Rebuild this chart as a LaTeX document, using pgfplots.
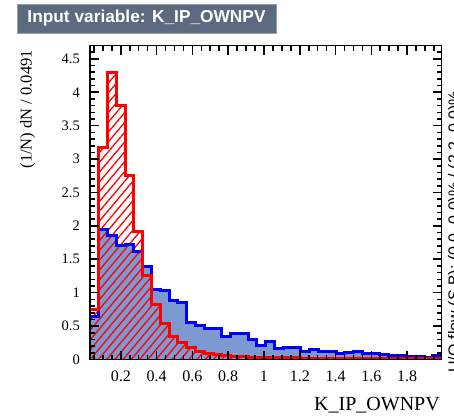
\documentclass[border=0pt]{standalone}
\usepackage{pgfplots}
\pgfplotsset{compat=1.18}
\usepackage{pgfplotstable}
\usepackage{fontspec}
\setmainfont{Liberation Serif}
\newfontfamily\helv{Liberation Sans}
\usetikzlibrary{patterns.meta}
\definecolor{bfill}{RGB}{125,153,209}
\definecolor{titlebox}{RGB}{91,106,126}
\definecolor{titleedge}{RGB}{150,160,172}

\pgfplotstableread{
x sig bkg
0.0280 0.75 0.65
0.0771 3.17 1.95
0.1262 4.29 1.85
0.1753 3.80 1.70
0.2244 2.76 1.72
0.2735 1.92 1.62
0.3226 1.25 1.39
0.3717 0.83 1.05
0.4208 0.54 1.03
0.4699 0.35 0.89
0.5190 0.26 0.86
0.5681 0.175 0.55
0.6172 0.12 0.51
0.6663 0.095 0.46
0.7154 0.075 0.47
0.7645 0.06 0.345
0.8136 0.05 0.385
0.8627 0.042 0.385
0.9118 0.036 0.295
0.9609 0.032 0.21
1.0100 0.029 0.275
1.0591 0.027 0.16
1.1082 0.025 0.185
1.1573 0.023 0.185
1.2064 0.022 0.12
1.2555 0.021 0.145
1.3046 0.020 0.125
1.3537 0.019 0.115
1.4028 0.018 0.09
1.4519 0.017 0.10
1.5010 0.016 0.125
1.5501 0.016 0.085
1.5992 0.015 0.09
1.6483 0.015 0.075
1.6974 0.014 0.065
1.7465 0.014 0.065
1.7956 0.013 0.05
1.8447 0.013 0.05
1.8938 0.012 0.035
1.9429 0.012 0.065
1.9920 0.012 0.065
}\histdata

\begin{document}
\begin{tikzpicture}[x=1pt,y=1pt]
\useasboundingbox (0,0) rectangle (454,418);
\begin{axis}[
  at={(90pt,58.5pt)}, anchor=south west,
  scale only axis, width=351.5pt, height=314pt,
  xmin=0.028, xmax=1.992, ymin=0, ymax=4.70,
  axis on top,
  axis line style={line width=1.8pt},
  xtick={0.2,0.4,...,1.8}, ytick={0,0.5,...,4.5},
  minor xtick={0.05,0.10,...,1.95}, minor ytick={0.1,0.2,...,4.6},
  tick align=inside,
  major tick length=9pt, minor tick length=5pt,
  every tick/.style={black, line width=1.6pt},
  /pgf/number format/assume math mode=true,
  xticklabel style={font=\fontsize{16}{16}\selectfont, inner sep=0pt, anchor=north, yshift=-11pt},
  yticklabel style={font=\fontsize{14.5}{14.5}\selectfont, inner sep=0pt, anchor=east, xshift=-10pt},
]
\addplot[const plot, fill=bfill, draw=none] table[x=x,y=bkg] \histdata \closedcycle;
\addplot[const plot, draw=none, pattern={Lines[angle=50, distance=6.3pt, line width=1.3pt]}, pattern color=red] table[x=x,y=sig] \histdata \closedcycle;
\addplot[const plot, draw=blue, line width=3pt] table[x=x,y=bkg] \histdata;
\addplot[const plot, draw=red, line width=3pt] table[x=x,y=sig] \histdata;
\end{axis}
\node[fill=titlebox, draw=titleedge, line width=0.8pt, minimum width=259pt, minimum height=29pt, inner sep=0pt, text=white, font=\helv\bfseries\fontsize{17.3}{17.3}\selectfont] at (146.5,399.5) {Input variable: K\_IP\_OWNPV};
\node[rotate=90, anchor=east, inner sep=0pt, font=\fontsize{16.5}{16.5}\selectfont] at (27.7,368) {(1/N) dN / 0.0491};
\node[anchor=base east, inner sep=0pt, font=\fontsize{20}{20}\selectfont] at (440,7.3) {K\_IP\_OWNPV};
\node[rotate=90, anchor=north west, inner sep=0pt, font=\helv\fontsize{16}{16}\selectfont] at (447.7,45) {U/O-flow (S,B): (0.0, 0.0)\% / (2.2, 0.0)\%};
\end{tikzpicture}
\end{document}
